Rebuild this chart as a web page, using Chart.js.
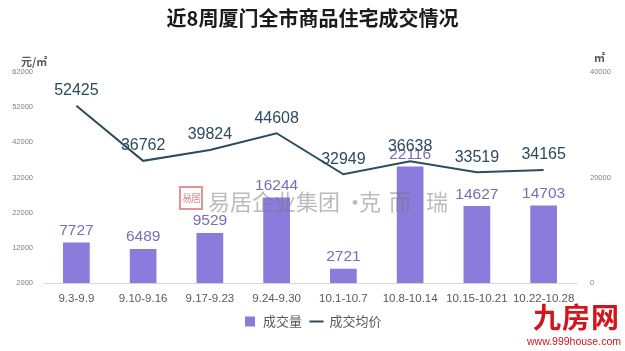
<!DOCTYPE html>
<html>
<head>
<meta charset="utf-8">
<script src="https://cdn.jsdelivr.net/npm/chart.js@4"></script>
<style>
  body { margin: 0; background: #fff; }
  #wrap { position: relative; width: 625px; height: 351px; }
  .mark { position: absolute; font-family: "Noto Sans CJK SC", sans-serif; pointer-events: none; line-height: 1; }
  .wm { font-size: 22px; color: rgba(120,120,120,0.5); top: 189px; }
</style>
</head>
<body>
<div id="wrap">
  <canvas id="chart" width="625" height="351"></canvas>
  <div class="mark" style="left:179px;top:186px;width:20px;height:20px;border:2px solid rgba(200,60,60,0.55);color:rgba(200,60,60,0.6);font-size:10px;line-height:20px;text-align:center;letter-spacing:-1px;">易居</div>
  <div class="mark wm" style="left:208px;">易居企业集团</div>
  <div class="mark wm" style="left:344px;">•</div>
  <div class="mark wm" style="left:359px;">克</div>
  <div class="mark wm" style="left:389px;">而</div>
  <div class="mark wm" style="left:426px;">瑞</div>
  <div class="mark" style="left:533px;top:302px;font-size:28px;font-weight:bold;color:#d3141c;letter-spacing:1px;">九房网</div>
  <div class="mark" style="left:527px;top:336px;font-size:10.5px;color:#d3141c;font-family:'Liberation Sans',sans-serif;">www.999house.com</div>
</div>
<script>
  const weeks = ["9.3-9.9", "9.10-9.16", "9.17-9.23", "9.24-9.30", "10.1-10.7", "10.8-10.14", "10.15-10.21", "10.22-10.28"];
  const volume = [7727, 6489, 9529, 16244, 2721, 22116, 14627, 14703];
  const avgPrice = [52425, 36762, 39824, 44608, 32949, 36638, 33519, 34165];
  const leftTicks = [2000, 12000, 22000, 32000, 42000, 52000, 62000];
  const rightTicks = [0, 20000, 40000];

  const barColor = "#8b7bdc";
  const lineColor = "#2d4c5e";

  // value labels above bars and line points, plus unit labels
  const valueLabels = {
    id: "valueLabels",
    afterDatasetsDraw(chart) {
      const ctx = chart.ctx;
      ctx.save();
      ctx.textAlign = "center";
      ctx.textBaseline = "bottom";
      chart.getDatasetMeta(0).data.forEach((bar, i) => {
        ctx.font = "15.5px 'Liberation Sans', sans-serif";
        ctx.fillStyle = "#7a6db8";
        ctx.fillText(volume[i], bar.x, bar.y - 4);
      });
      chart.getDatasetMeta(1).data.forEach((pt, i) => {
        ctx.font = "16px 'Liberation Sans', sans-serif";
        ctx.fillStyle = "#2e4a5e";
        ctx.fillText(avgPrice[i], pt.x, pt.y - 7);
      });
      const a = chart.chartArea;
      ctx.font = "bold 11px 'Noto Sans CJK SC', sans-serif";
      ctx.fillStyle = "#595959";
      ctx.textAlign = "left";
      ctx.textBaseline = "middle";
      ctx.fillText("元/㎡", 21, a.top - 10);
      ctx.fillText("㎡", 594, a.top - 14);
      ctx.restore();
    }
  };

  const plainTick = v => String(v);

  new Chart(document.getElementById("chart"), {
    data: {
      labels: weeks,
      datasets: [{
        type: "bar",
        label: "成交量",
        data: volume,
        backgroundColor: barColor,
        yAxisID: "yR",
        barPercentage: 0.4,
        categoryPercentage: 1,
        order: 2
      }, {
        type: "line",
        label: "成交均价",
        data: avgPrice,
        borderColor: lineColor,
        backgroundColor: lineColor,
        borderWidth: 2,
        pointRadius: 0,
        tension: 0,
        yAxisID: "yL",
        order: 1
      }]
    },
    plugins: [valueLabels],
    options: {
      responsive: false,
      animation: false,
      layout: { padding: { top: 0, bottom: 13, left: 0, right: 0 } },
      plugins: {
        title: {
          display: true,
          text: "近8周厦门全市商品住宅成交情况",
          color: "#1a1a1a",
          font: { family: "'Noto Sans CJK SC', sans-serif", size: 20, weight: "bold" },
          padding: { top: 6, bottom: 42 }
        },
        legend: {
          position: "bottom",
          labels: {
            usePointStyle: true,
            color: "#595959",
            font: { family: "'Noto Sans CJK SC', sans-serif", size: 13 },
            padding: 8,
            boxHeight: 10,
            generateLabels(chart) {
              return chart.data.datasets.map((ds, i) => ({
                text: ds.label,
                fillStyle: ds.backgroundColor,
                strokeStyle: i === 0 ? barColor : lineColor,
                lineWidth: i === 0 ? 0 : 2,
                pointStyle: i === 0 ? "rect" : "line",
                datasetIndex: i,
                fontColor: "#595959"
              }));
            }
          }
        },
        tooltip: { enabled: false }
      },
      scales: {
        x: {
          afterFit(axis) { axis.height -= 8; },
          grid: { display: false, drawTicks: false },
          border: { color: "#d9d9d9" },
          ticks: {
            color: "#595959",
            font: { family: "'Liberation Sans', sans-serif", size: 11.5 },
            padding: 9,
            maxRotation: 0,
            minRotation: 0,
            autoSkip: false
          }
        },
        yL: {
          position: "left",
          min: 2000,
          max: 62000,
          afterBuildTicks(axis) { axis.ticks = leftTicks.map(v => ({ value: v })); },
          afterFit(axis) { axis.width = 43; },
          grid: { display: false, drawTicks: false },
          border: { display: false },
          ticks: { color: "#7f7f7f", font: { family: "'Liberation Sans', sans-serif", size: 7.5 }, padding: 10, callback: plainTick }
        },
        yR: {
          position: "right",
          min: 0,
          max: 40000,
          afterBuildTicks(axis) { axis.ticks = rightTicks.map(v => ({ value: v })); },
          afterFit(axis) { axis.width = 48; },
          grid: { display: false, drawTicks: false },
          border: { display: false },
          ticks: { color: "#7f7f7f", font: { family: "'Liberation Sans', sans-serif", size: 7.5 }, padding: 13, callback: plainTick }
        }
      }
    }
  });
</script>
</body>
</html>
